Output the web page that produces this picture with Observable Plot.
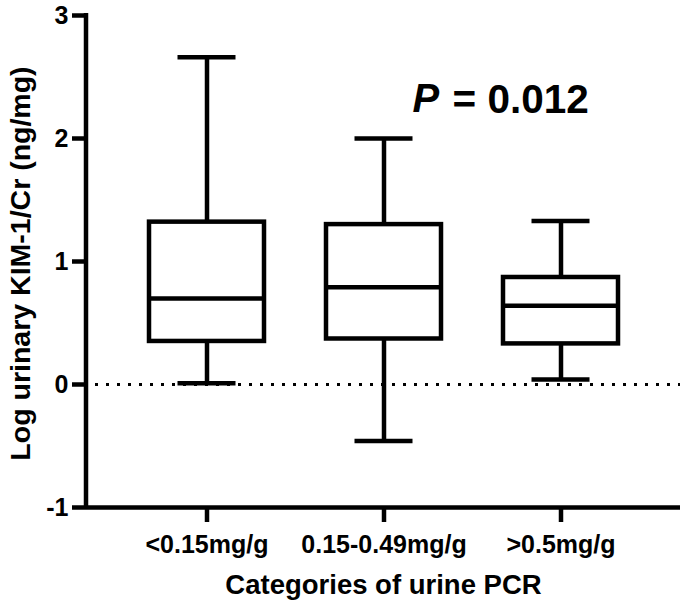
<!DOCTYPE html>
<html>
<head>
<meta charset="utf-8">
<script src="https://cdn.jsdelivr.net/npm/d3@7"></script>
<script src="https://cdn.jsdelivr.net/npm/@observablehq/plot@0.6"></script>
<style>
  body { margin: 0; background: #fff; }
  svg text { font-weight: bold; }
</style>
</head>
<body>
<div id="chart"></div>
<script>
// ---- data ----
const categories = ["<0.15mg/g", "0.15-0.49mg/g", ">0.5mg/g"];
const whiskerLow  = [0.01, -0.46, 0.04];
const q1          = [0.35, 0.37, 0.33];
const median      = [0.70, 0.79, 0.64];
const q3          = [1.32, 1.30, 0.87];
const whiskerHigh = [2.66, 2.00, 1.33];
const yTicks = [-1, 0, 1, 2, 3];
const yTickLabels = ["-1", "0", "1", "2", "3"];
const yTitle = "Log urinary KIM-1/Cr (ng/mg)";
const xTitle = "Categories of urine PCR";
const pLabel = "P";
const pValue = "= 0.012";

const rows = categories.map((c, i) => ({
  cat: c, lo: whiskerLow[i], q1: q1[i], med: median[i], q3: q3[i], hi: whiskerHigh[i]
}));

const font = "'Liberation Sans', Arial, Helvetica, sans-serif";
const lw = 4.5;

const plot = Plot.plot({
  width: 687,
  height: 616,
  marginLeft: 86,
  marginRight: 7,
  marginTop: 15,
  marginBottom: 109,
  style: { fontFamily: font, background: "#fff", color: "#000", overflow: "visible" },
  x: { type: "band", domain: categories, paddingInner: 0.352, paddingOuter: 0.349, axis: null },
  y: { domain: [-1, 3], axis: null },
  marks: [
    Plot.ruleY([0], { strokeWidth: 3, strokeDasharray: "3,8", insetLeft: 9 }),
    Plot.ruleX(rows, { x: "cat", y1: "lo", y2: "q1", strokeWidth: lw }),
    Plot.ruleX(rows, { x: "cat", y1: "q3", y2: "hi", strokeWidth: lw }),
    Plot.tickY(rows, { x: "cat", y: "lo", strokeWidth: lw, insetLeft: 28.5, insetRight: 28.5 }),
    Plot.tickY(rows, { x: "cat", y: "hi", strokeWidth: lw, insetLeft: 28.5, insetRight: 28.5 }),
    Plot.barY(rows, { x: "cat", y1: "q1", y2: "q3", fill: "white", stroke: "black", strokeWidth: lw }),
    Plot.tickY(rows, { x: "cat", y: "med", strokeWidth: lw }),
    Plot.ruleY([-1], { strokeWidth: lw }),
    Plot.axisY({
      ticks: yTicks,
      tickFormat: (d) => yTickLabels[yTicks.indexOf(d)],
      tickSize: 14, tickPadding: 4, strokeWidth: lw, fontSize: 25, fontWeight: "bold", label: null
    }),
    Plot.axisX({ tickSize: 15, tickPadding: 13, strokeWidth: lw, fontSize: 25, fontWeight: "bold", label: null }),
    Plot.text([yTitle], { frameAnchor: "left", rotate: -90, dx: -66, dy: 2, fontSize: 28.5, fontWeight: "bold", textAnchor: "middle" }),
    Plot.text([xTitle], { frameAnchor: "bottom", dy: 86, fontSize: 27.5, fontWeight: "bold", textAnchor: "middle" }),
    Plot.text([pLabel], { frameAnchor: "top-left", dx: 326, dy: 68.5, fontSize: 40, fontWeight: "bold", fontStyle: "italic", textAnchor: "start" }),
    Plot.text([pValue], { frameAnchor: "top-left", dx: 366, dy: 68.5, fontSize: 40.5, fontWeight: "bold", textAnchor: "start" })
  ]
});

// y-axis spine, placed with the plot's own y scale
const ys = plot.scale("y");
d3.select(plot).append("line")
  .attr("x1", 86).attr("x2", 86)
  .attr("y1", ys.apply(yTicks[yTicks.length - 1]) - 2)
  .attr("y2", ys.apply(yTicks[0]) + 2)
  .attr("stroke", "black")
  .attr("stroke-width", lw);

document.getElementById("chart").appendChild(plot);
</script>
</body>
</html>
